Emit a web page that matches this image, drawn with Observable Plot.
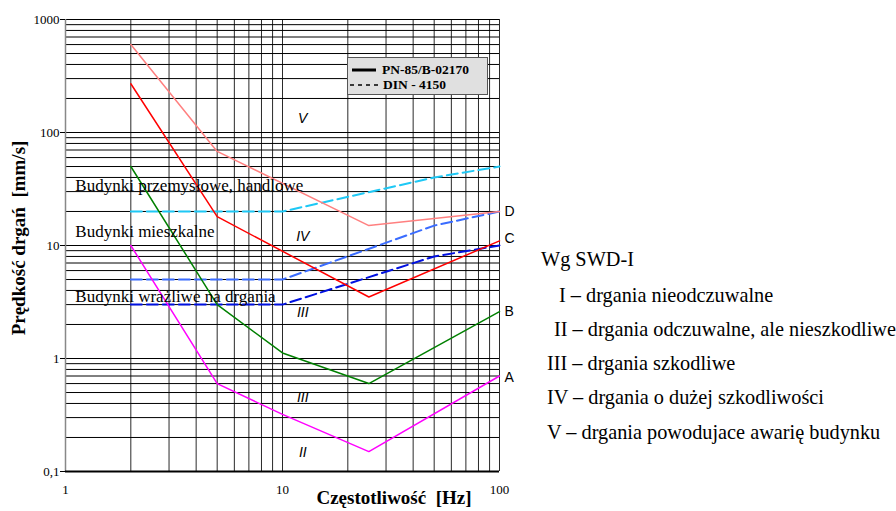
<!DOCTYPE html>
<html><head><meta charset="utf-8">
<script src="https://cdn.jsdelivr.net/npm/d3@7"></script>
<script src="https://cdn.jsdelivr.net/npm/@observablehq/plot@0.6"></script>
<style>
body{margin:0;background:#fff;}
#wrap{position:relative;width:896px;height:511px;font-family:"Liberation Serif","Times New Roman",serif;color:#000;overflow:hidden;}
#wrap svg{position:absolute;left:0;top:0;}
#wrap svg g[aria-label="y-axis tick label"], #wrap svg g[aria-label="x-axis tick label"]{font-family:"Liberation Serif",serif;}
.ov{position:absolute;white-space:pre;line-height:1;font-family:"Liberation Serif",serif;}
.ttl{font-weight:bold;font-size:19px;transform:translate(-50%,-50%);}
#ytitle{transform:translate(-50%,-50%) rotate(-90deg);}
#legend{position:absolute;left:347px;top:57px;width:139px;height:36px;background:#e0e0e0;border:1px solid #555;font-weight:bold;font-size:13.5px;font-family:"Liberation Serif",serif;}
#legend .row{position:absolute;left:0;white-space:pre;line-height:1;}
.swd{font-size:20.3px;}
</style></head><body><div id="wrap"></div><script>
// ---- data ----
const freqGridX = [2,3,4,5,6,7,8,9,10,20,30,40,50,60,70,80,90,100];
const gridY = [0.2,0.3,0.4,0.5,0.6,0.7,0.8,0.9,1,2,3,4,5,6,7,8,9,10,20,30,40,50,60,70,80,90,100,200,300,400,500,600,700,800,900,1000];
const xTicks = [1,10,100];
const xTickLabels = ["1","10","100"];
const yTicks = [0.1,1,10,100,1000];
const yTickLabels = ["0,1","1","10","100","1000"];

// PN-85/B-02170 (solid)
const curveD_f = [2,5,25,100];   const curveD_v = [600,68,15,20];
const curveC_f = [2,5,25,100];   const curveC_v = [270,18,3.5,11];
const curveB_f = [2,5,10,25,100]; const curveB_v = [50,3,1.12,0.6,2.6];
const curveA_f = [2,5,10,25,100]; const curveA_v = [10,0.6,0.32,0.15,0.7];
// DIN 4150 (dashed)
const dinInd_f = [2,10,50,100];  const dinInd_v = [20,20,40,50];
const dinRes_f = [2,10,50,100];  const dinRes_v = [5,5,15,20];
const dinSen_f = [2,10,50,100];  const dinSen_v = [3,3,8,10];

const endLetters = ["D","C","B","A"];
const endLetterY = [20,11.5,2.6,0.68];
const zoneText = ["V","IV","III","III","II"];
const zoneY = [133,12,2.54,0.45,0.146];
const zoneX = 12.4;
const buildingText = ["Budynki przemysłowe, handlowe","Budynki mieszkalne","Budynki wrażliwe na drgania"];
const buildingY = [34,13.2,3.5];
const buildingX = 1.11;

const swdTitle = "Wg SWD-I";
const swdLines = ["I – drgania nieodczuwalne","II – drgania odczuwalne, ale nieszkodliwe","III – drgania szkodliwe","IV – drgania o dużej szkodliwości","V – drgania powodujace awarię budynku"];

// ---- build ----
const serif = "Liberation Serif";
const sans = "Liberation Sans";
const toRows = (f, v) => f.map((d, i) => ({f: d, v: v[i]}));
const solid = [
  {rows: toRows(curveD_f, curveD_v), color: "#ff8080"},
  {rows: toRows(curveC_f, curveC_v), color: "#ff0000"},
  {rows: toRows(curveB_f, curveB_v), color: "#008000"},
  {rows: toRows(curveA_f, curveA_v), color: "#ff00ff"}
];
const dashed = [
  {rows: toRows(dinInd_f, dinInd_v), color: "#1ec8f5"},
  {rows: toRows(dinRes_f, dinRes_v), color: "#3a6cff"},
  {rows: toRows(dinSen_f, dinSen_v), color: "#0010e0"}
];

const chart = Plot.plot({
  width: 896, height: 511,
  marginLeft: 65, marginRight: 397, marginTop: 19, marginBottom: 40,
  x: {type: "log", domain: [1, 100]},
  y: {type: "log", domain: [0.1, 1000]},
  style: {fontFamily: serif, fontSize: "13px", background: "transparent", color: "#000"},
  marks: [
    Plot.ruleX(freqGridX, {stroke: "#2a2a2a", strokeWidth: 1}),
    Plot.ruleY(gridY, {stroke: "#000", strokeWidth: 1}),
    Plot.ruleX([1], {stroke: "#888", strokeWidth: 1.5}),
    Plot.ruleY([0.1], {stroke: "#000", strokeWidth: 2}),
    ...dashed.map(s => Plot.line(s.rows, {x: "f", y: "v", stroke: s.color, strokeWidth: 2, strokeDasharray: "11,5"})),
    ...solid.map(s => Plot.line(s.rows, {x: "f", y: "v", stroke: s.color, strokeWidth: 1.5})),
    Plot.axisY({ticks: yTicks, tickFormat: d => yTickLabels[yTicks.indexOf(d)], tickSize: 5, tickPadding: 1, label: null, fontSize: 13, fontFamily: serif, fontVariant: "normal"}),
    Plot.axisX({ticks: xTicks, tickFormat: d => xTickLabels[xTicks.indexOf(d)], tickSize: 0, tickPadding: 13, label: null, fontSize: 13, fontFamily: serif, fontVariant: "normal"}),
    Plot.text(zoneText, {x: () => zoneX, y: (d, i) => zoneY[i], text: d => d, fontFamily: sans, fontStyle: "italic", fontSize: 14}),
    Plot.text(buildingText, {x: () => buildingX, y: (d, i) => buildingY[i], text: d => d, textAnchor: "start", fontSize: 17, fontFamily: serif}),
    Plot.text(endLetters, {x: () => 100, y: (d, i) => endLetterY[i], text: d => d, textAnchor: "start", dx: 5, fontFamily: sans, fontSize: 14})
  ]
});

const wrap = document.getElementById("wrap");
wrap.appendChild(chart);

function addDiv(cls, text, left, top, id) {
  const d = document.createElement("div");
  d.className = "ov " + cls;
  if (id) d.id = id;
  d.textContent = text;
  d.style.left = left + "px";
  d.style.top = top + "px";
  wrap.appendChild(d);
  return d;
}
addDiv("ttl", "Prędkość drgań  [mm/s]", 18, 238, "ytitle");
addDiv("ttl", "Częstotliwość  [Hz]", 394, 497);

// legend
const lg = document.createElement("div");
lg.id = "legend";
lg.innerHTML =
  '<svg width="139" height="36" style="position:absolute;left:0;top:0">' +
  '<line x1="4" x2="28" y1="12" y2="12" stroke="#000" stroke-width="3"/>' +
  '<line x1="2" x2="32" y1="27" y2="27" stroke="#000" stroke-width="1.5" stroke-dasharray="4,4"/></svg>' +
  '<div class="row" style="left:34px;top:5px">PN-85/B-02170</div>' +
  '<div class="row" style="left:35px;top:20px">DIN - 4150</div>';
wrap.appendChild(lg);

// SWD-I description
addDiv("swd", swdTitle, 541, 249);
const swdX = [559, 554, 547, 547, 547];
const swdTop = [285, 319, 353, 387, 422];
swdLines.forEach((t, i) => addDiv("swd", t, swdX[i], swdTop[i]));
</script></body></html>
